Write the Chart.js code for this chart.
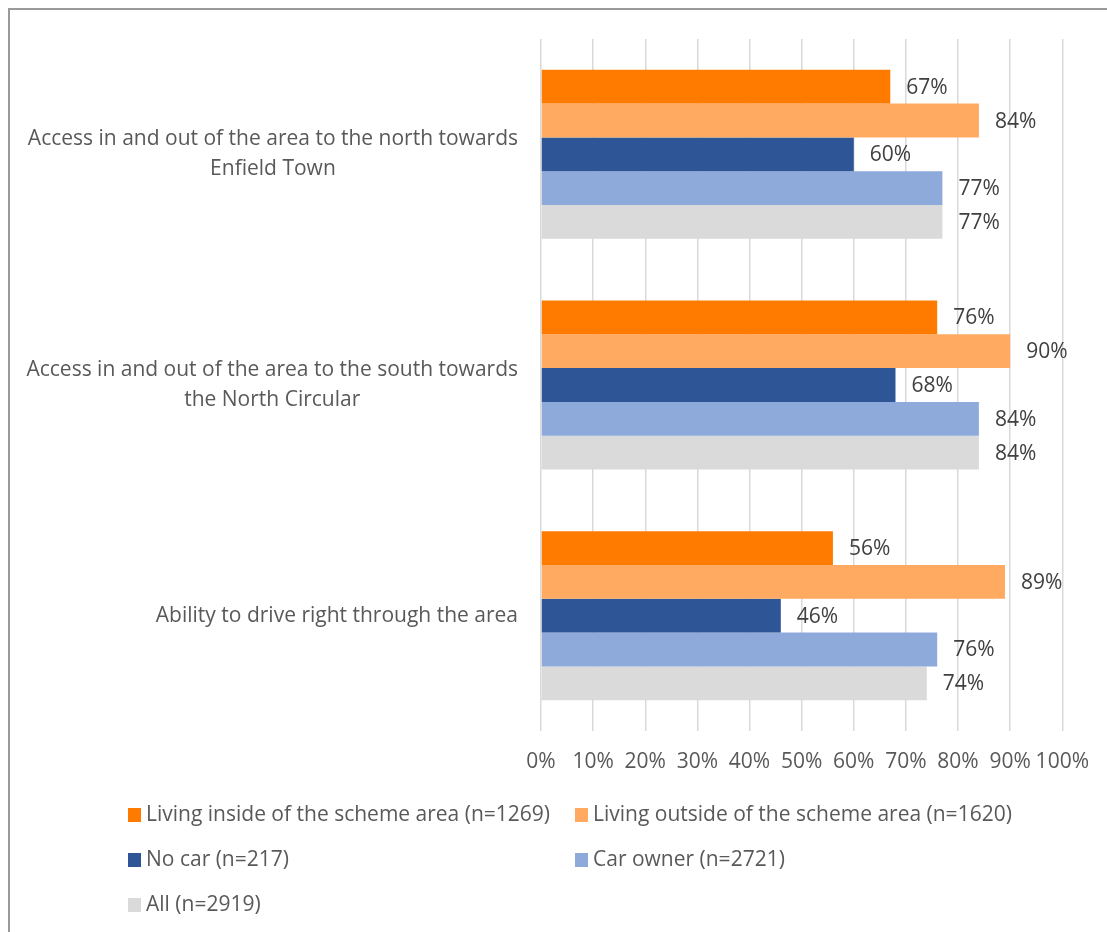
<!DOCTYPE html>
<html>
<head>
<meta charset="utf-8">
<script src="https://cdn.jsdelivr.net/npm/chart.js@4/dist/chart.umd.min.js"></script>
<style>
  html, body { margin: 0; padding: 0; background: #fff; }
  #frame {
    position: absolute; left: 8px; top: 8px; width: 1120px; height: 940px;
    border-top: 2px solid #9a9a9a; border-left: 2px solid #9a9a9a;
  }
  #wrap { position: absolute; left: 0; top: 0; width: 1107px; height: 932px; }
</style>
</head>
<body>
<div id="frame"></div>
<div id="wrap"><canvas id="chart" width="1107" height="932"></canvas></div>
<script>
const categories = [
  ['Access in and out of the area to the north towards', 'Enfield Town'],
  ['Access in and out of the area to the south towards', 'the North Circular'],
  ['Ability to drive right through the area']
]
const seriesNames = [
  'Living inside of the scheme area (n=1269)',
  'Living outside of the scheme area (n=1620)',
  'No car (n=217)',
  'Car owner (n=2721)',
  'All (n=2919)'
]
const insideArea  = [67, 76, 56]
const outsideArea = [84, 90, 89]
const noCar       = [60, 68, 46]
const carOwner    = [77, 84, 76]
const allResp     = [77, 84, 74]
const colours = ['#ff7b00', '#ffaa60', '#2e5596', '#8eaadb', '#dadada']

const FONT = '"Open Sans", "DejaVu Sans", sans-serif'
const SIZE = 21
const TEXT = '#595959'

let zip = (name, values, i) => ({
  label: name,
  data: values,
  backgroundColor: colours[i],
  borderWidth: 0,
  categoryPercentage: 0.733,
  barPercentage: 1.0
})
const datasets = [insideArea, outsideArea, noCar, carOwner, allResp]
  .map((vals, i) => zip(seriesNames[i], vals, i))

// category labels: wrapped lines centred inside a block right-aligned to the axis
const categoryLabels = {
  id: 'categoryLabels',
  afterDraw(chart) {
    const ctx = chart.ctx
    const y = chart.scales.y
    const right = 518
    const lh = 30
    ctx.save()
    ctx.font = SIZE + 'px ' + FONT
    ctx.fillStyle = TEXT
    ctx.textAlign = 'center'
    ctx.textBaseline = 'middle'
    categories.forEach((lines, i) => {
      const w = Math.max(...lines.map(l => ctx.measureText(l).width))
      const cx = right - w / 2
      const cy = y.getPixelForTick(i)
      lines.forEach((l, k) => {
        ctx.fillText(l, cx, cy + (k - (lines.length - 1) / 2) * lh)
      })
    })
    ctx.restore()
  }
}

// percentage next to the end of each bar
const valueLabels = {
  id: 'valueLabels',
  afterDatasetsDraw(chart) {
    const ctx = chart.ctx
    ctx.save()
    ctx.font = SIZE + 'px ' + FONT
    ctx.fillStyle = '#404040'
    ctx.textAlign = 'left'
    ctx.textBaseline = 'middle'
    chart.data.datasets.forEach((ds, di) => {
      chart.getDatasetMeta(di).data.forEach((bar, i) => {
        ctx.fillText(ds.data[i] + '%', bar.x + 16, bar.y + 1)
      })
    })
    ctx.restore()
  }
}

// two-column legend underneath the axis
const gridLegend = {
  id: 'gridLegend',
  afterDraw(chart) {
    const ctx = chart.ctx
    const cols = [128, 575]
    const rows = [815, 860, 905]
    ctx.save()
    ctx.font = SIZE + 'px ' + FONT
    ctx.textAlign = 'left'
    ctx.textBaseline = 'middle'
    chart.data.datasets.forEach((ds, i) => {
      const x = cols[i % 2]
      const y = rows[Math.floor(i / 2)]
      ctx.fillStyle = ds.backgroundColor
      ctx.fillRect(x, y - 7, 13, 14)
      ctx.fillStyle = TEXT
      ctx.fillText(ds.label, x + 18, y)
    })
    ctx.restore()
  }
}

new Chart(document.getElementById('chart'), {
  type: 'bar',
  data: { labels: categories.map(c => c.join(' ')), datasets: datasets },
  plugins: [categoryLabels, valueLabels, gridLegend],
  options: {
    indexAxis: 'y',
    responsive: false,
    animation: false,
    layout: { padding: { top: 39, right: 44, bottom: 0, left: 0 } },
    plugins: { legend: { display: false }, tooltip: { enabled: false } },
    scales: {
      x: {
        min: 0, max: 100,
        ticks: {
          stepSize: 10,
          padding: 18,
          autoSkip: false,
          maxRotation: 0,
          minRotation: 0,
          color: TEXT,
          font: { family: FONT, size: SIZE },
          callback: v => v + '%'
        },
        grid: { color: '#d9d9d9', lineWidth: 1.5, drawTicks: false },
        border: { display: false },
        afterFit: s => { s.height = 201 }
      },
      y: {
        ticks: { display: false },
        grid: { display: false, drawTicks: false },
        border: { display: false },
        afterFit: s => { s.width = 541 }
      }
    }
  }
})
</script>
</body>
</html>
